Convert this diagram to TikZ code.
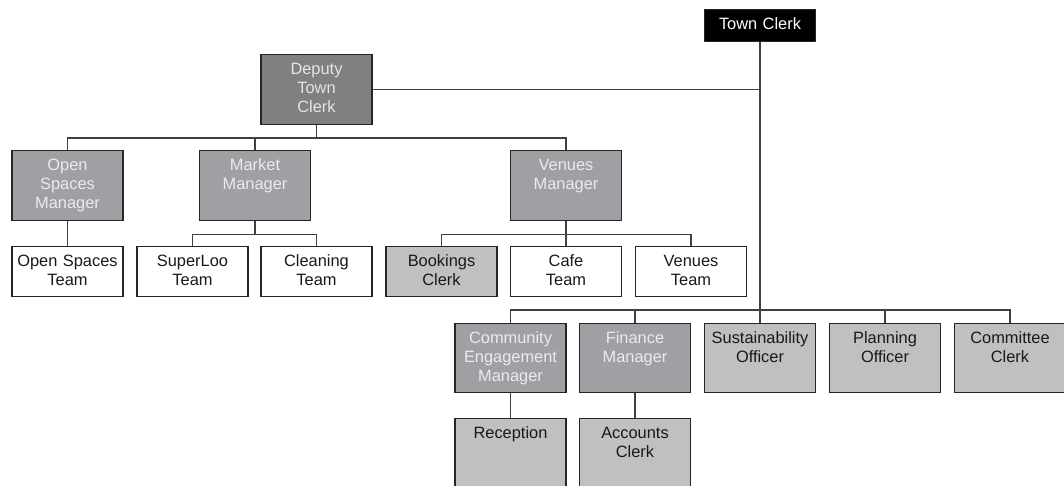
\documentclass[tikz,border=0pt]{standalone}
\usepackage{fontspec}
\setmainfont{Liberation Sans}
\usetikzlibrary{positioning,calc}
\definecolor{deputygray}{HTML}{808080}
\definecolor{managergray}{HTML}{A0A0A4}
\definecolor{staffgray}{HTML}{C0C0C0}
\definecolor{linegray}{HTML}{404040}

\begin{document}
\begin{tikzpicture}[
    x=1pt, y=-1pt,
    every node/.style={font=\fontsize{16.4}{19}\selectfont},
    post/.style={draw=black!85, line width=1.1pt, anchor=north, text width=107pt, align=center,
        inner xsep=2pt, inner ysep=0pt, text height=20pt, text depth=#1},
    post/.default=50pt,
    boss/.style={post=12pt, fill=black, text=white},
    deputy/.style={post=#1, fill=deputygray, text=white!90!black},
    deputy/.default=50pt,
    manager/.style={post=#1, fill=managergray, text=white!92!black},
    manager/.default=50pt,
    officer/.style={post=#1, fill=staffgray, text=black!90},
    officer/.default=49pt,
    team/.style={post=30pt, fill=white, text=black!90},
    link/.style={linegray, line width=1.2pt}
]

% Page frame
\path[use as bounding box] (0,0) rectangle (1064,486);
\clip (0,0) rectangle (1064,486);

% Town clerk and deputy
\node[boss] (tc) at (760,9) {Town Clerk};
\node[deputy] (dtc) at (316.5,54) {Deputy\\Town\\Clerk};

% Managers under the deputy
\node[manager] (osm) at (67.5,150) {Open\\Spaces\\Manager};
\node[manager] (mm) at (255,150) {Market\\Manager};
\node[manager] (vm) at (566,150) {Venues\\Manager};

% Teams
\node[team] (ost) at (67.5,246) {Open Spaces\\Team};
\node[team] (slt) at (192.5,246) {SuperLoo\\Team};
\node[team] (clt) at (316.5,246) {Cleaning\\Team};
\node[officer=30pt] (bkc) at (441.5,246) {Bookings\\Clerk};
\node[team] (cft) at (566,246) {Cafe\\Team};
\node[team] (vtm) at (691,246) {Venues\\Team};

% Staff under the town clerk
\node[manager=49pt] (cem) at (510.5,323) {Community\\Engagement\\Manager};
\node[manager=49pt] (fm) at (635,323) {Finance\\Manager};
\node[officer] (so) at (760,323) {Sustainability\\Officer};
\node[officer] (po) at (885,323) {Planning\\Officer};
\node[officer] (cc) at (1010,323) {Committee\\Clerk};

\node[officer=50pt] (rec) at (510.5,418) {Reception};
\node[officer=50pt] (acc) at (635,418) {Accounts\\Clerk};

% Lines
\draw[link] (dtc.east) -- (dtc.east -| tc.south);
\draw[link] (tc.south) -- (so.north);
\foreach \n in {cem,fm,po,cc}
    \draw[link] (so.north) ++(0,-13) -| (\n.north);

\foreach \n in {osm,mm,vm}
    \draw[link] (dtc.south) -- ++(0,13) -| (\n.north);
\draw[link] (osm.south) -- (ost.north);
\foreach \n in {slt,clt}
    \draw[link] (mm.south) -- ++(0,13) -| (\n.north);
\foreach \n in {bkc,cft,vtm}
    \draw[link] (vm.south) -- ++(0,13) -| (\n.north);

\draw[link] (cem.south) -- (rec.north);
\draw[link] (fm.south) -- (acc.north);

\end{tikzpicture}
\end{document}
